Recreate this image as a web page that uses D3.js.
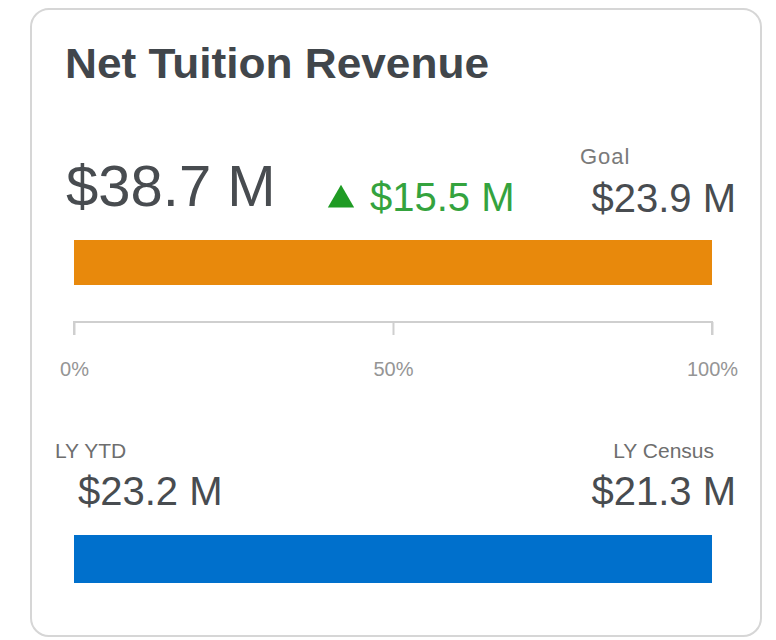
<!DOCTYPE html>
<html>
<head>
<meta charset="utf-8">
<script src="https://cdn.jsdelivr.net/npm/d3@7"></script>
<style>
  html, body { margin: 0; padding: 0; background: #ffffff; }
  svg { display: block; }
  text { font-family: "Liberation Sans", Arial, sans-serif; }
</style>
</head>
<body>
<svg id="chart" width="776" height="640"></svg>
<script>
// KPI card: Net Tuition Revenue
const title = "Net Tuition Revenue";
const actualValue = 38.7;      // $M, current
const changeValue = 15.5;      // $M, change vs last year YTD
const goalValue = 23.9;        // $M
const lyYtdValue = 23.2;       // $M
const lyCensusValue = 21.3;    // $M
const goalLabel = "Goal";
const lyYtdLabel = "LY YTD";
const lyCensusLabel = "LY Census";
const axisTicks = [0, 0.5, 1];

const fmtM = v => "$" + d3.format(".1f")(v) + " M";

const svg = d3.select("#chart");

// card frame
svg.append("rect")
  .attr("x", 31).attr("y", 9)
  .attr("width", 730).attr("height", 627)
  .attr("rx", 18).attr("ry", 18)
  .attr("fill", "#ffffff")
  .attr("stroke", "#d6d6d6")
  .attr("stroke-width", 2);

// title
svg.append("text")
  .attr("x", 65).attr("y", 78)
  .attr("font-size", 43)
  .attr("font-weight", 700)
  .attr("fill", "#41464b")
  .attr("textLength", 424)
  .attr("lengthAdjust", "spacingAndGlyphs")
  .text(title);

// progress scale shared by both bars
const x = d3.scaleLinear().domain([0, 1]).range([74, 712]).clamp(true);

// headline values
svg.append("text")
  .attr("x", 66).attr("y", 206)
  .attr("font-size", 58)
  .attr("fill", "#484c50")
  .text(fmtM(actualValue));

// up triangle + change value
const triCx = 341, triBase = 210;
svg.append("path")
  .attr("d", d3.symbol().type(d3.symbolTriangle).size(300)())
  .attr("transform", `translate(${triCx},${triBase - 10})`)
  .attr("fill", "#1f9b24");
svg.append("text")
  .attr("x", 370).attr("y", 211)
  .attr("font-size", 40)
  .attr("fill", "#34a33e")
  .text(fmtM(changeValue));

svg.append("text")
  .attr("x", 580).attr("y", 164)
  .attr("font-size", 22)
  .attr("letter-spacing", 1)
  .attr("fill", "#7a7a7a")
  .text(goalLabel);
svg.append("text")
  .attr("x", 736).attr("y", 212)
  .attr("text-anchor", "end")
  .attr("font-size", 40)
  .attr("fill", "#484c50")
  .text(fmtM(goalValue));

// actual vs goal bar
svg.append("rect")
  .attr("x", x(0)).attr("y", 240)
  .attr("width", x(actualValue / goalValue) - x(0))
  .attr("height", 45)
  .attr("fill", "#e8890c");

// percent axis
const axis = d3.axisBottom(x)
  .tickValues(axisTicks)
  .tickFormat(d3.format(".0%"))
  .tickSize(13)
  .tickPadding(27);
const axisG = svg.append("g")
  .attr("transform", "translate(0,322)")
  .call(axis);
axisG.select(".domain")
  .attr("d", `M${x(0)},13V0H${x(1)}V13`)
  .attr("stroke", "#cfcfcf").attr("stroke-width", 2);
axisG.selectAll(".tick line").attr("stroke", "#cfcfcf").attr("stroke-width", 2);
axisG.selectAll(".tick text")
  .attr("font-family", "Liberation Sans, Arial, sans-serif")
  .attr("font-size", 20)
  .attr("fill", "#959595");

// last-year comparison
svg.append("text")
  .attr("x", 55).attr("y", 458)
  .attr("font-size", 21)
  .attr("fill", "#6e6e6e")
  .text(lyYtdLabel);
svg.append("text")
  .attr("x", 78).attr("y", 505)
  .attr("font-size", 40)
  .attr("fill", "#484c50")
  .text(fmtM(lyYtdValue));

svg.append("text")
  .attr("x", 714).attr("y", 458)
  .attr("text-anchor", "end")
  .attr("font-size", 21)
  .attr("fill", "#6e6e6e")
  .text(lyCensusLabel);
svg.append("text")
  .attr("x", 736).attr("y", 505)
  .attr("text-anchor", "end")
  .attr("font-size", 40)
  .attr("fill", "#484c50")
  .text(fmtM(lyCensusValue));

// LY YTD vs LY Census bar
svg.append("rect")
  .attr("x", x(0)).attr("y", 535)
  .attr("width", x(lyYtdValue / lyCensusValue) - x(0))
  .attr("height", 48)
  .attr("fill", "#0070cc");
</script>
</body>
</html>
